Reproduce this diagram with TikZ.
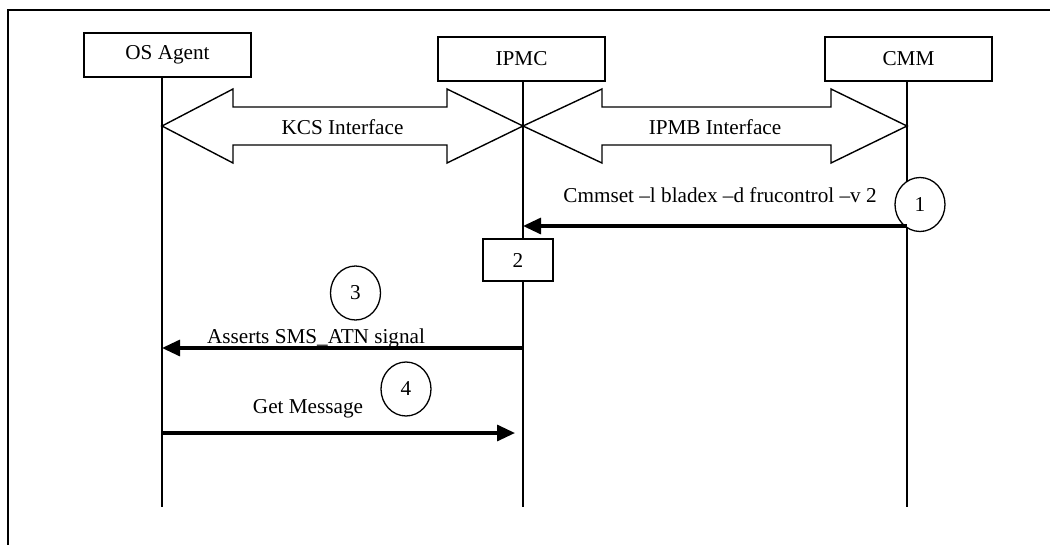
\documentclass[tikz,border=0pt]{standalone}
\usepackage{fontspec}
\setmainfont{Liberation Serif}
\usetikzlibrary{arrows.meta,calc,shapes.geometric}

\tikzset{
  actor/.style={draw, line width=1.3pt, minimum width=167pt, minimum height=44pt, inner sep=0pt},
  lifeline/.style={line width=1.5pt},
  blockarrow/.style={draw, line width=1.4pt, line join=miter},
  msg/.style={line width=3.2pt, -{Triangle[length=18pt,width=16pt]}},
  stepmark/.style={draw, fill=white, line width=1.3pt, ellipse, minimum width=50pt, minimum height=54pt, inner sep=0pt},
  stepbox/.style={draw, fill=white, line width=1.3pt, minimum width=70pt, minimum height=42pt, inner sep=0pt},
  lbl/.style={inner sep=0pt}
}

\begin{document}
\begin{tikzpicture}[x=1pt,y=-1pt,font=\fontsize{21.2}{25}\selectfont]
\useasboundingbox (0,0) rectangle (1050,544);
\clip (0,0) rectangle (1050,544);

% outer frame (runs off the page on the right and at the bottom)
\draw[line width=2.2pt] (8,600) -- (8,10) -- (1100,10);

% participants
\node[actor] (os)   at (167.5,55) {OS Agent};
\node[actor] (ipmc) at (521.5,59) {IPMC};
\node[actor] (cmm)  at (908.5,59) {CMM};

% lifeline ends
\coordinate (osEnd)   at (162,507);
\coordinate (ipmcEnd) at (523,507);
\coordinate (cmmEnd)  at (907,507);

\draw[lifeline] (osEnd |- os.south) -- (osEnd);
\draw[lifeline] (ipmcEnd |- ipmc.south) -- (ipmcEnd);
\draw[lifeline] (cmmEnd |- cmm.south) -- (cmmEnd);

% interface arrows between lifelines
\coordinate (kcsL)  at (osEnd |- 0,126);
\coordinate (kcsR)  at (ipmcEnd |- 0,126);
\coordinate (ipmbL) at (ipmcEnd |- 0,126);
\coordinate (ipmbR) at (cmmEnd |- 0,126);

\draw[blockarrow] (kcsL) -- ++(71,-37) -- ++(0,18) -- ($(kcsR)+(-76,-19)$)
  -- ++(0,-18) -- (kcsR) -- ++(-76,37) -- ++(0,-18) -- ($(kcsL)+(71,19)$)
  -- ++(0,18) -- cycle;
\node[lbl] (kcs) at ($(kcsL)!0.5!(kcsR)+(0,1)$) {KCS Interface};

\draw[blockarrow] (ipmbL) -- ++(79,-37) -- ++(0,18) -- ($(ipmbR)+(-76,-19)$)
  -- ++(0,-18) -- (ipmbR) -- ++(-76,37) -- ++(0,-18) -- ($(ipmbL)+(79,19)$)
  -- ++(0,18) -- cycle;
\node[lbl] (ipmb) at ($(ipmbL)!0.5!(ipmbR)+(0,1)$) {IPMB Interface};

% step 1: CMM -> IPMC (the marker sits over the CMM lifeline)
\node[stepmark] (s1) at (920,204.5) {1};
\coordinate (m1a) at (cmmEnd |- 0,226);
\coordinate (m1b) at (ipmcEnd |- 0,226);
\draw[msg] (m1a) -- (m1b);
\node[lbl] (m1) at (720,195) {Cmmset –l bladex –d frucontrol –v 2};

% step 2: IPMC processing
\node[stepbox] (s2) at (518,260) {2};

% step 3: IPMC -> OS Agent
\coordinate (m3a) at (ipmcEnd |- 0,348);
\coordinate (m3b) at (osEnd |- 0,348);
\draw[msg] (m3a) -- (m3b);
\node[lbl] (m3) at (316,338) {Asserts SMS\_ATN signal};
\node[stepmark] (s3) at (355.5,293) {3};

% step 4: OS Agent -> IPMC
\coordinate (m4a) at (osEnd |- 0,433);
\coordinate (m4b) at (515,433);
\draw[msg] (m4a) -- (m4b);
\node[lbl] (m4) at (308,409) {Get Message};
\node[stepmark] (s4) at (406,389) {4};
\end{tikzpicture}
\end{document}
